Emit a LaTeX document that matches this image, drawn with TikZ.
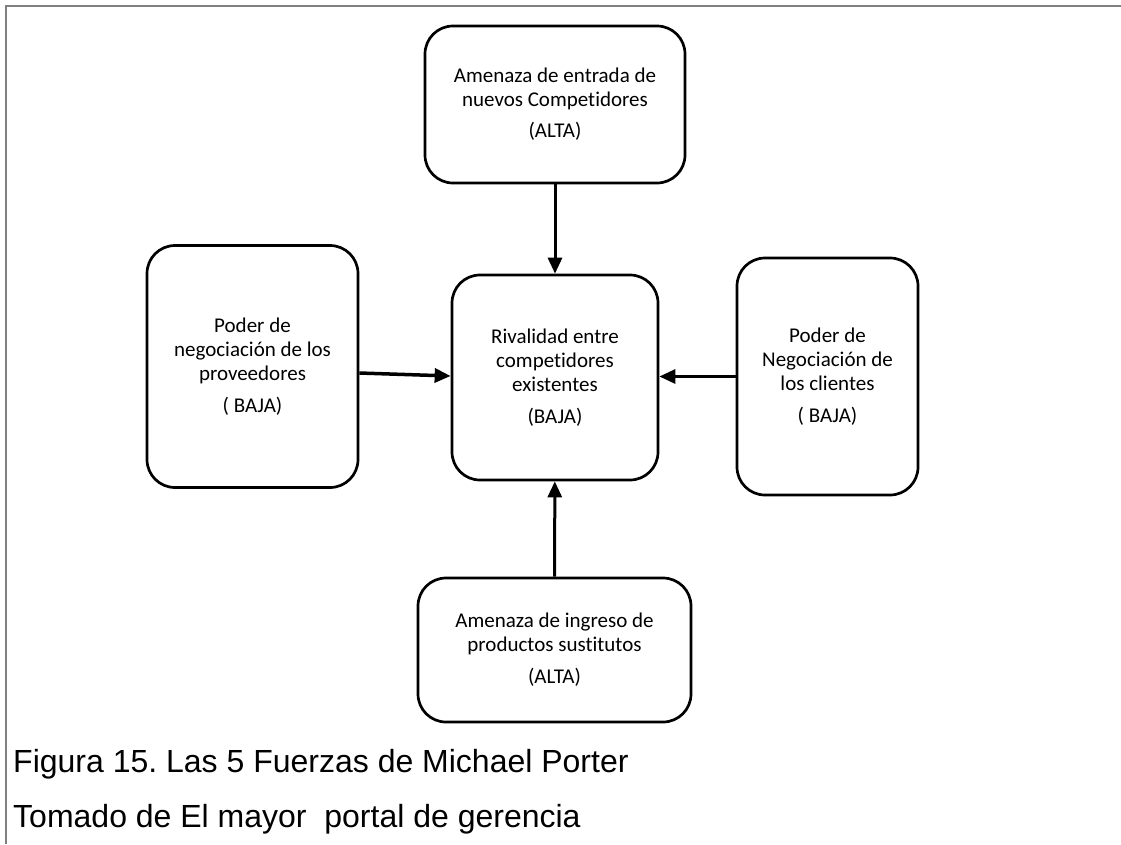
\documentclass[tikz,border=0pt]{standalone}
\usepackage{fontspec}
\setmainfont{Liberation Sans}
\newfontfamily\boxfont[Ligatures=NoCommon]{Carlito}
\usetikzlibrary{arrows.meta}
\frenchspacing
\begin{document}
\begin{tikzpicture}[x=1pt,y=-1pt,
  fuerza/.style={draw,line width=2.7pt,rounded corners=28pt,inner sep=0pt,align=center,
    font=\boxfont\fontsize{21}{24}\selectfont},
  flecha/.style={-{Triangle[length=16pt,width=14pt]},line width=3pt},
  pie/.style={anchor=base west,inner sep=0pt,font=\fontsize{32}{38}\selectfont}]
\useasboundingbox (0,0) rectangle (1121,844);
%\draw[step=50,gray,very thin] (0,0) grid (1121,844);
\draw[gray,line width=1.5pt] (6,844)--(6,6)--(1121,6);
\node[fuerza,minimum width=260pt,minimum height=157pt] (entrada) at (555,104.5)
  {Amenaza de entrada de\\nuevos Competidores\\[7pt](ALTA)};
\node[fuerza,minimum width=211pt,minimum height=242pt] (proveedores) at (252.5,366.5)
  {Poder de\\negociación de los\\proveedores\\[8pt]( BAJA)};
\node[fuerza,minimum width=206pt,minimum height=205pt] (rivalidad) at (555,377.5)
  {Rivalidad entre\\competidores\\existentes\\[8pt](BAJA)};
\node[fuerza,minimum width=181pt,minimum height=237pt] (clientes) at (827.5,376.5)
  {Poder de\\Negociación de\\los clientes\\[8pt]( BAJA)};
\node[fuerza,minimum width=273pt,minimum height=144pt] (sustitutos) at (554.5,650)
  {Amenaza de ingreso de\\productos sustitutos\\[8pt](ALTA)};
\draw[flecha] (entrada) -- (rivalidad);
\draw[flecha] (sustitutos) -- (rivalidad);
\draw[flecha,line width=3.5pt] ([yshift=-6.5pt]proveedores.east) -- ([yshift=1.5pt]rivalidad.west);
\draw[flecha] (clientes.west) -- (rivalidad.east |- clientes.west);
\node[pie] (titulo) at (13,772) {Figura 15. Las 5 Fuerzas de Michael Porter};
\node[pie] (fuente) at (13,827) {Tomado de El mayor~ portal de gerencia};
\end{tikzpicture}
\end{document}
